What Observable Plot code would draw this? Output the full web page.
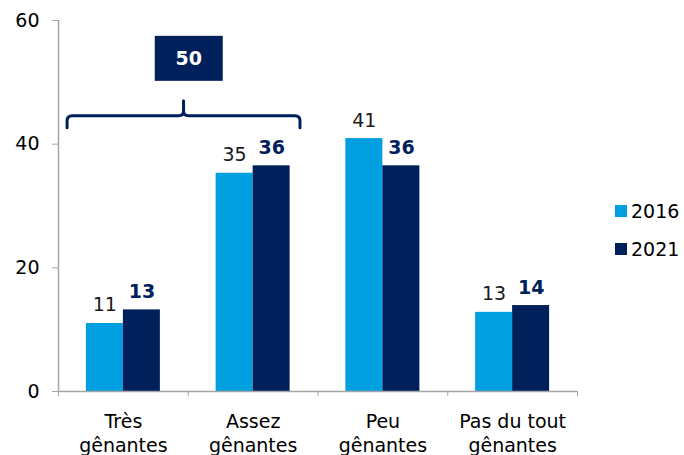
<!DOCTYPE html>
<html><head><meta charset="utf-8">
<script src="https://cdn.jsdelivr.net/npm/d3@7"></script>
<script src="https://cdn.jsdelivr.net/npm/@observablehq/plot@0.6"></script>
<style>
body{margin:0;background:#fff;font-family:"DejaVu Sans",Verdana,sans-serif;}
#chart{position:relative;width:684px;height:455px;}
#legend{position:absolute;left:615px;top:198px;font-size:19px;color:#000;line-height:1;}
.row{display:flex;align-items:center;height:26px;margin-bottom:12px;}
.sw{width:12px;height:12px;margin-right:4px;}
</style></head><body><div id="chart"><div id="legend"></div></div>
<script>
const categories = ["Très gênantes","Assez gênantes","Peu gênantes","Pas du tout gênantes"];
const categoryLabels = ["Très\ngênantes","Assez\ngênantes","Peu\ngênantes","Pas du tout\ngênantes"];
const years = ["2016","2021"];
const values2016 = [11.0, 35.3, 40.9, 12.8];
const values2021 = [13.2, 36.5, 36.5, 13.9];
const labels2016 = [11, 35, 41, 13];
const labels2021 = [13, 36, 36, 14];
const yTicks = [0, 20, 40, 60];
const colors = ["#009FE0", "#00205B"];
// annotation: bracket over the first two categories with their combined 2021 share
const bracketSpan = [0.07, 1.865];
const bracketLevel = 44.5;
const bracketBoxLevel = 53.8;
const bracketTotal = 50;

const rows2016 = categories.map((c, i) => ({cat: c, idx: i, year: years[0], value: values2016[i], label: labels2016[i]}));
const rows2021 = categories.map((c, i) => ({cat: c, idx: i, year: years[1], value: values2021[i], label: labels2021[i]}));

const half = 519 / 8; // half band width in px
const barW = 37;
const axisColor = "#A6A6A6";
const fs = 19;

const plot = Plot.plot({
  width: 684, height: 455,
  marginLeft: 58, marginRight: 107, marginTop: 20, marginBottom: 64,
  style: {fontFamily: "DejaVu Sans, Verdana, sans-serif", fontSize: fs + "px", color: "#000", background: "transparent", overflow: "visible"},
  x: {domain: [0, 4]},
  y: {domain: [0, 60]},
  color: {domain: years, range: colors},
  marks: [
    Plot.rectY(rows2016, {x1: d => d.idx, x2: d => d.idx + 1, y: "value", fill: "year", insetLeft: half - barW, insetRight: half}),
    Plot.rectY(rows2021, {x1: d => d.idx, x2: d => d.idx + 1, y: "value", fill: "year", insetLeft: half, insetRight: half - barW}),
    Plot.ruleY([0], {stroke: axisColor, strokeWidth: 1.5}),
    Plot.ruleX([0], {y1: 0, y2: 60, stroke: axisColor, strokeWidth: 1.5}),
    Plot.axisY({ticks: yTicks, tickSize: 6, tickPadding: 13, stroke: axisColor, label: null, fontSize: fs}),
    Plot.axisX({ticks: [0, 1, 2, 3, 4], tickSize: 5, tickFormat: () => "", stroke: axisColor, label: null}),
    Plot.axisX({ticks: categories.map((c, i) => i + 0.5), tickSize: 0, tickPadding: 20, lineHeight: 1.24,
      tickFormat: d => categoryLabels[Math.floor(d)], label: null, fontSize: fs}),
    Plot.text(rows2016, {x: d => d.idx + 0.5, y: "value", text: d => String(d.label), dx: -barW / 2, dy: -12,
      lineAnchor: "bottom", fill: "#1a1a1a", fontSize: fs}),
    Plot.text(rows2021, {x: d => d.idx + 0.5, y: "value", text: d => String(d.label), dx: barW / 2, dy: -12,
      lineAnchor: "bottom", fill: colors[1], fontSize: fs, fontWeight: "bold"})
  ]
});

document.getElementById("chart").prepend(plot);

// bracket annotation drawn with the plot's own scales
const sx = plot.scale("x"), sy = plot.scale("y");
const svg = d3.select(plot);
const x1 = sx.apply(bracketSpan[0]), x2 = sx.apply(bracketSpan[1]), xm = (x1 + x2) / 2;
const yb = sy.apply(bracketLevel);
const r = 5;
const p = `M${x1},${yb + 12} L${x1},${yb + r} Q${x1},${yb} ${x1 + r},${yb} L${xm - r},${yb} Q${xm},${yb} ${xm},${yb - r} L${xm},${yb - 15}
 M${xm},${yb - r} Q${xm},${yb} ${xm + r},${yb} L${x2 - r},${yb} Q${x2},${yb} ${x2},${yb + r} L${x2},${yb + 12}`;
svg.append("path").attr("d", p).attr("fill", "none").attr("stroke", colors[1]).attr("stroke-width", 3).attr("stroke-linecap", "round");
const bx = sx.apply(1) + 1, by = sy.apply(bracketBoxLevel);
svg.append("rect").attr("x", bx - 34).attr("y", by - 22.5).attr("width", 68).attr("height", 45).attr("fill", colors[1]);
svg.append("text").attr("x", bx).attr("y", by).attr("dy", "0.36em").attr("text-anchor", "middle")
  .attr("fill", "#fff").attr("font-weight", "bold").attr("font-size", fs).attr("font-family", "DejaVu Sans, Verdana, sans-serif")
  .text(String(bracketTotal));

// legend
const leg = d3.select("#legend");
years.forEach((y, i) => {
  const row = leg.append("div").attr("class", "row");
  row.append("div").attr("class", "sw").style("background", colors[i]);
  row.append("span").text(y);
});
</script></body></html>
